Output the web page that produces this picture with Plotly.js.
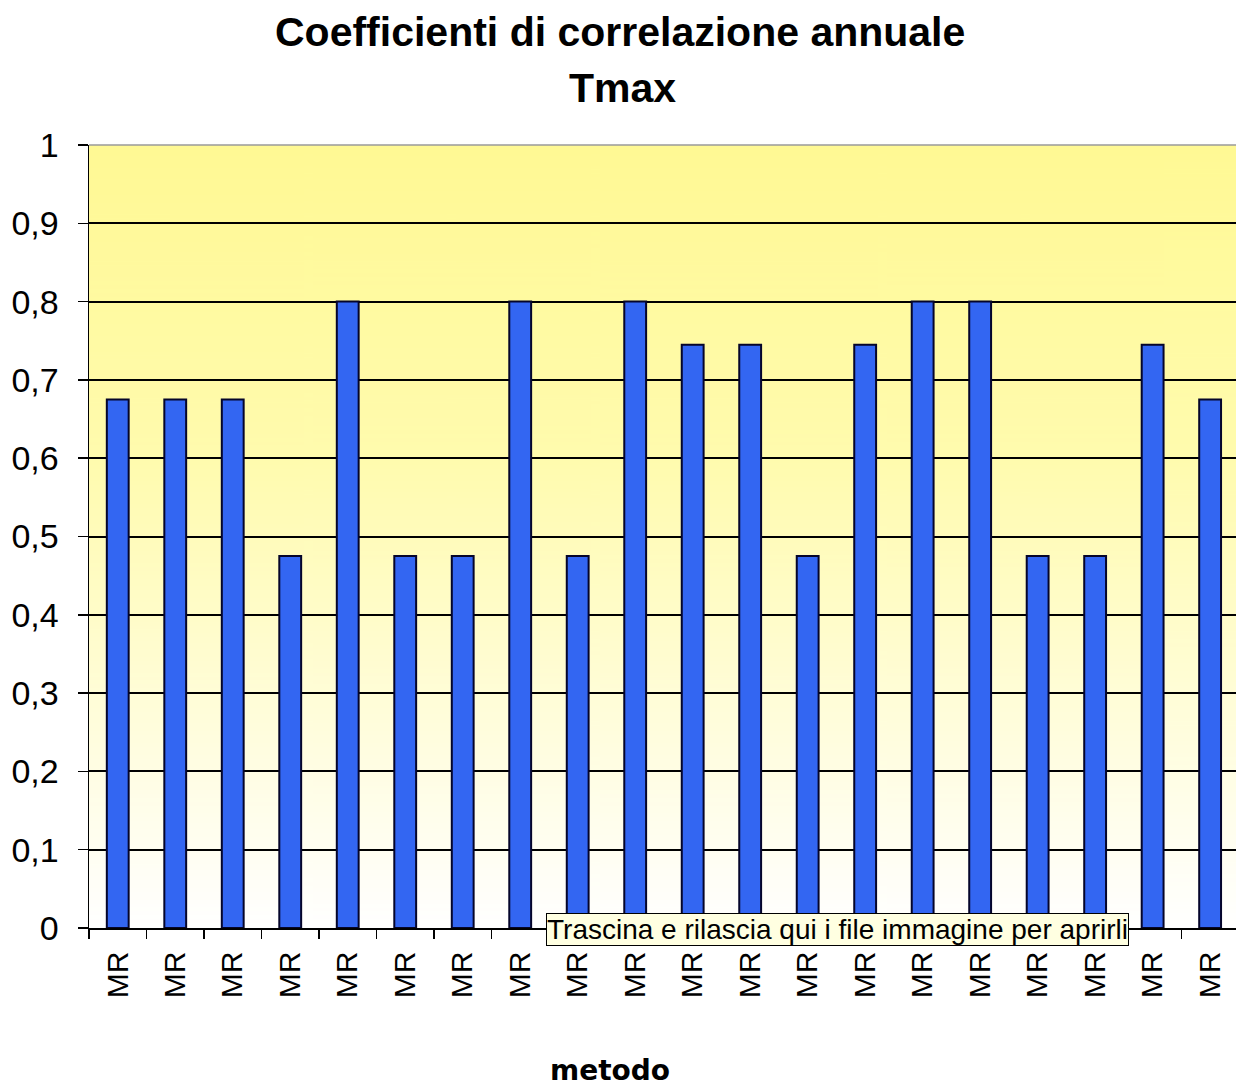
<!DOCTYPE html>
<html>
<head>
<meta charset="utf-8">
<script src="https://cdn.plot.ly/plotly-3.0.1.min.js"></script>
<style>
html,body{margin:0;padding:0;background:#fff;}
#chart{width:1236px;height:1086px;}
</style>
</head>
<body>
<div id="chart"></div>
<script>
// ---- data ----
var categories = ["MR1","MR2","MR3","MR4","MR5","MR6","MR7","MR8","MR9","MR10",
                  "MR11","MR12","MR13","MR14","MR15","MR16","MR17","MR18","MR19","MR20"];
var tickLabels = ["MR","MR","MR","MR","MR","MR","MR","MR","MR","MR",
                  "MR","MR","MR","MR","MR","MR","MR","MR","MR","MR"];
var values = [0.675,0.675,0.675,0.475,0.8,0.475,0.475,0.8,0.475,0.8,
              0.745,0.745,0.475,0.745,0.8,0.8,0.475,0.475,0.745,0.675];
var yTicks = [0,0.1,0.2,0.3,0.4,0.5,0.6,0.7,0.8,0.9,1];
var yTickText = ["0","0,1","0,2","0,3","0,4","0,5","0,6","0,7","0,8","0,9","1"];
var titleLine1 = "Coefficienti di correlazione annuale";
var titleLine2 = "Tmax";
var xTitle = "metodo";
var noteText = "Trascina e rilascia qui i file immagine per aprirli";

// gradient background image
var cv = document.createElement('canvas');
cv.width = 8; cv.height = 400;
var ctx = cv.getContext('2d');
var g = ctx.createLinearGradient(0,0,0,400);
g.addColorStop(0,'#FFF994');
g.addColorStop(0.4,'#FFFBAE');
g.addColorStop(1,'#FFFFFF');
ctx.fillStyle = g; ctx.fillRect(0,0,8,400);
var bgURL = cv.toDataURL('image/png');

var trace = {
  type: 'bar',
  x: categories,
  y: values,
  width: 0.38,
  marker: {color: '#3366F2', line: {color: '#05052A', width: 2}},
  hoverinfo: 'none'
};

var titleFont = {family: 'Liberation Sans, Arial, sans-serif', size: 41, color: '#000', weight: 'bold'};

var layout = {
  width: 1236, height: 1086,
  margin: {l: 89, r: 0, t: 145, b: 158},
  paper_bgcolor: '#ffffff',
  plot_bgcolor: 'rgba(0,0,0,0)',
  showlegend: false,
  xaxis: {
    type: 'category',
    range: [-0.5, 19.45],
    tickmode: 'array',
    tickvals: categories,
    ticktext: tickLabels,
    tickangle: -90,
    tickfont: {family: 'Liberation Sans, Arial, sans-serif', size: 30, color: '#000'},
    ticks: 'outside', ticklen: 9, tickwidth: 1.5, tickcolor: '#000',
    ticklabelstandoff: 10,
    tickson: 'boundaries',
    showgrid: false,
    showline: true, linecolor: '#000', linewidth: 1.5,
    zeroline: false
  },
  yaxis: {
    range: [0, 1],
    tickmode: 'array',
    tickvals: yTicks,
    ticktext: yTickText,
    tickfont: {family: 'Liberation Sans, Arial, sans-serif', size: 34, color: '#000'},
    ticks: 'outside', ticklen: 10, tickwidth: 1.5, tickcolor: '#000',
    ticklabelstandoff: 12,
    showgrid: true, gridcolor: '#000', gridwidth: 2,
    showline: true, linecolor: '#000', linewidth: 1.5,
    zeroline: false
  },
  images: [{
    source: bgURL, xref: 'paper', yref: 'paper', x: 0, y: 1,
    sizex: 1, sizey: 1, sizing: 'stretch', layer: 'below', xanchor: 'left', yanchor: 'top'
  }],
  shapes: [{
    type: 'line', xref: 'paper', yref: 'paper', x0: 0, x1: 1, y0: 1, y1: 1,
    line: {color: '#9a9a9a', width: 1.5}
  }],
  annotations: [
    {text: titleLine1, xref: 'paper', yref: 'paper', x: 0.463, y: 1.1443,
     xanchor: 'center', yanchor: 'middle', showarrow: false, font: titleFont},
    {text: titleLine2, xref: 'paper', yref: 'paper', x: 0.465, y: 1.0728,
     xanchor: 'center', yanchor: 'middle', showarrow: false, font: titleFont},
    {text: xTitle, xref: 'paper', yref: 'paper', x: 0.454, y: -0.1826,
     xanchor: 'center', yanchor: 'middle', showarrow: false,
     font: {family: 'DejaVu Sans, sans-serif', size: 28, color: '#000', weight: 'bold'}},
    {text: noteText, xref: 'paper', yref: 'paper', x: 0.6526, y: -0.002,
     xanchor: 'center', yanchor: 'middle', showarrow: false,
     font: {family: 'Liberation Sans, Arial, sans-serif', size: 28, color: '#000'},
     bgcolor: '#FFFFE1', bordercolor: '#000', borderwidth: 1, borderpad: 0}
  ]
};

Plotly.newPlot('chart', [trace], layout, {staticPlot: true});
</script>
</body>
</html>
